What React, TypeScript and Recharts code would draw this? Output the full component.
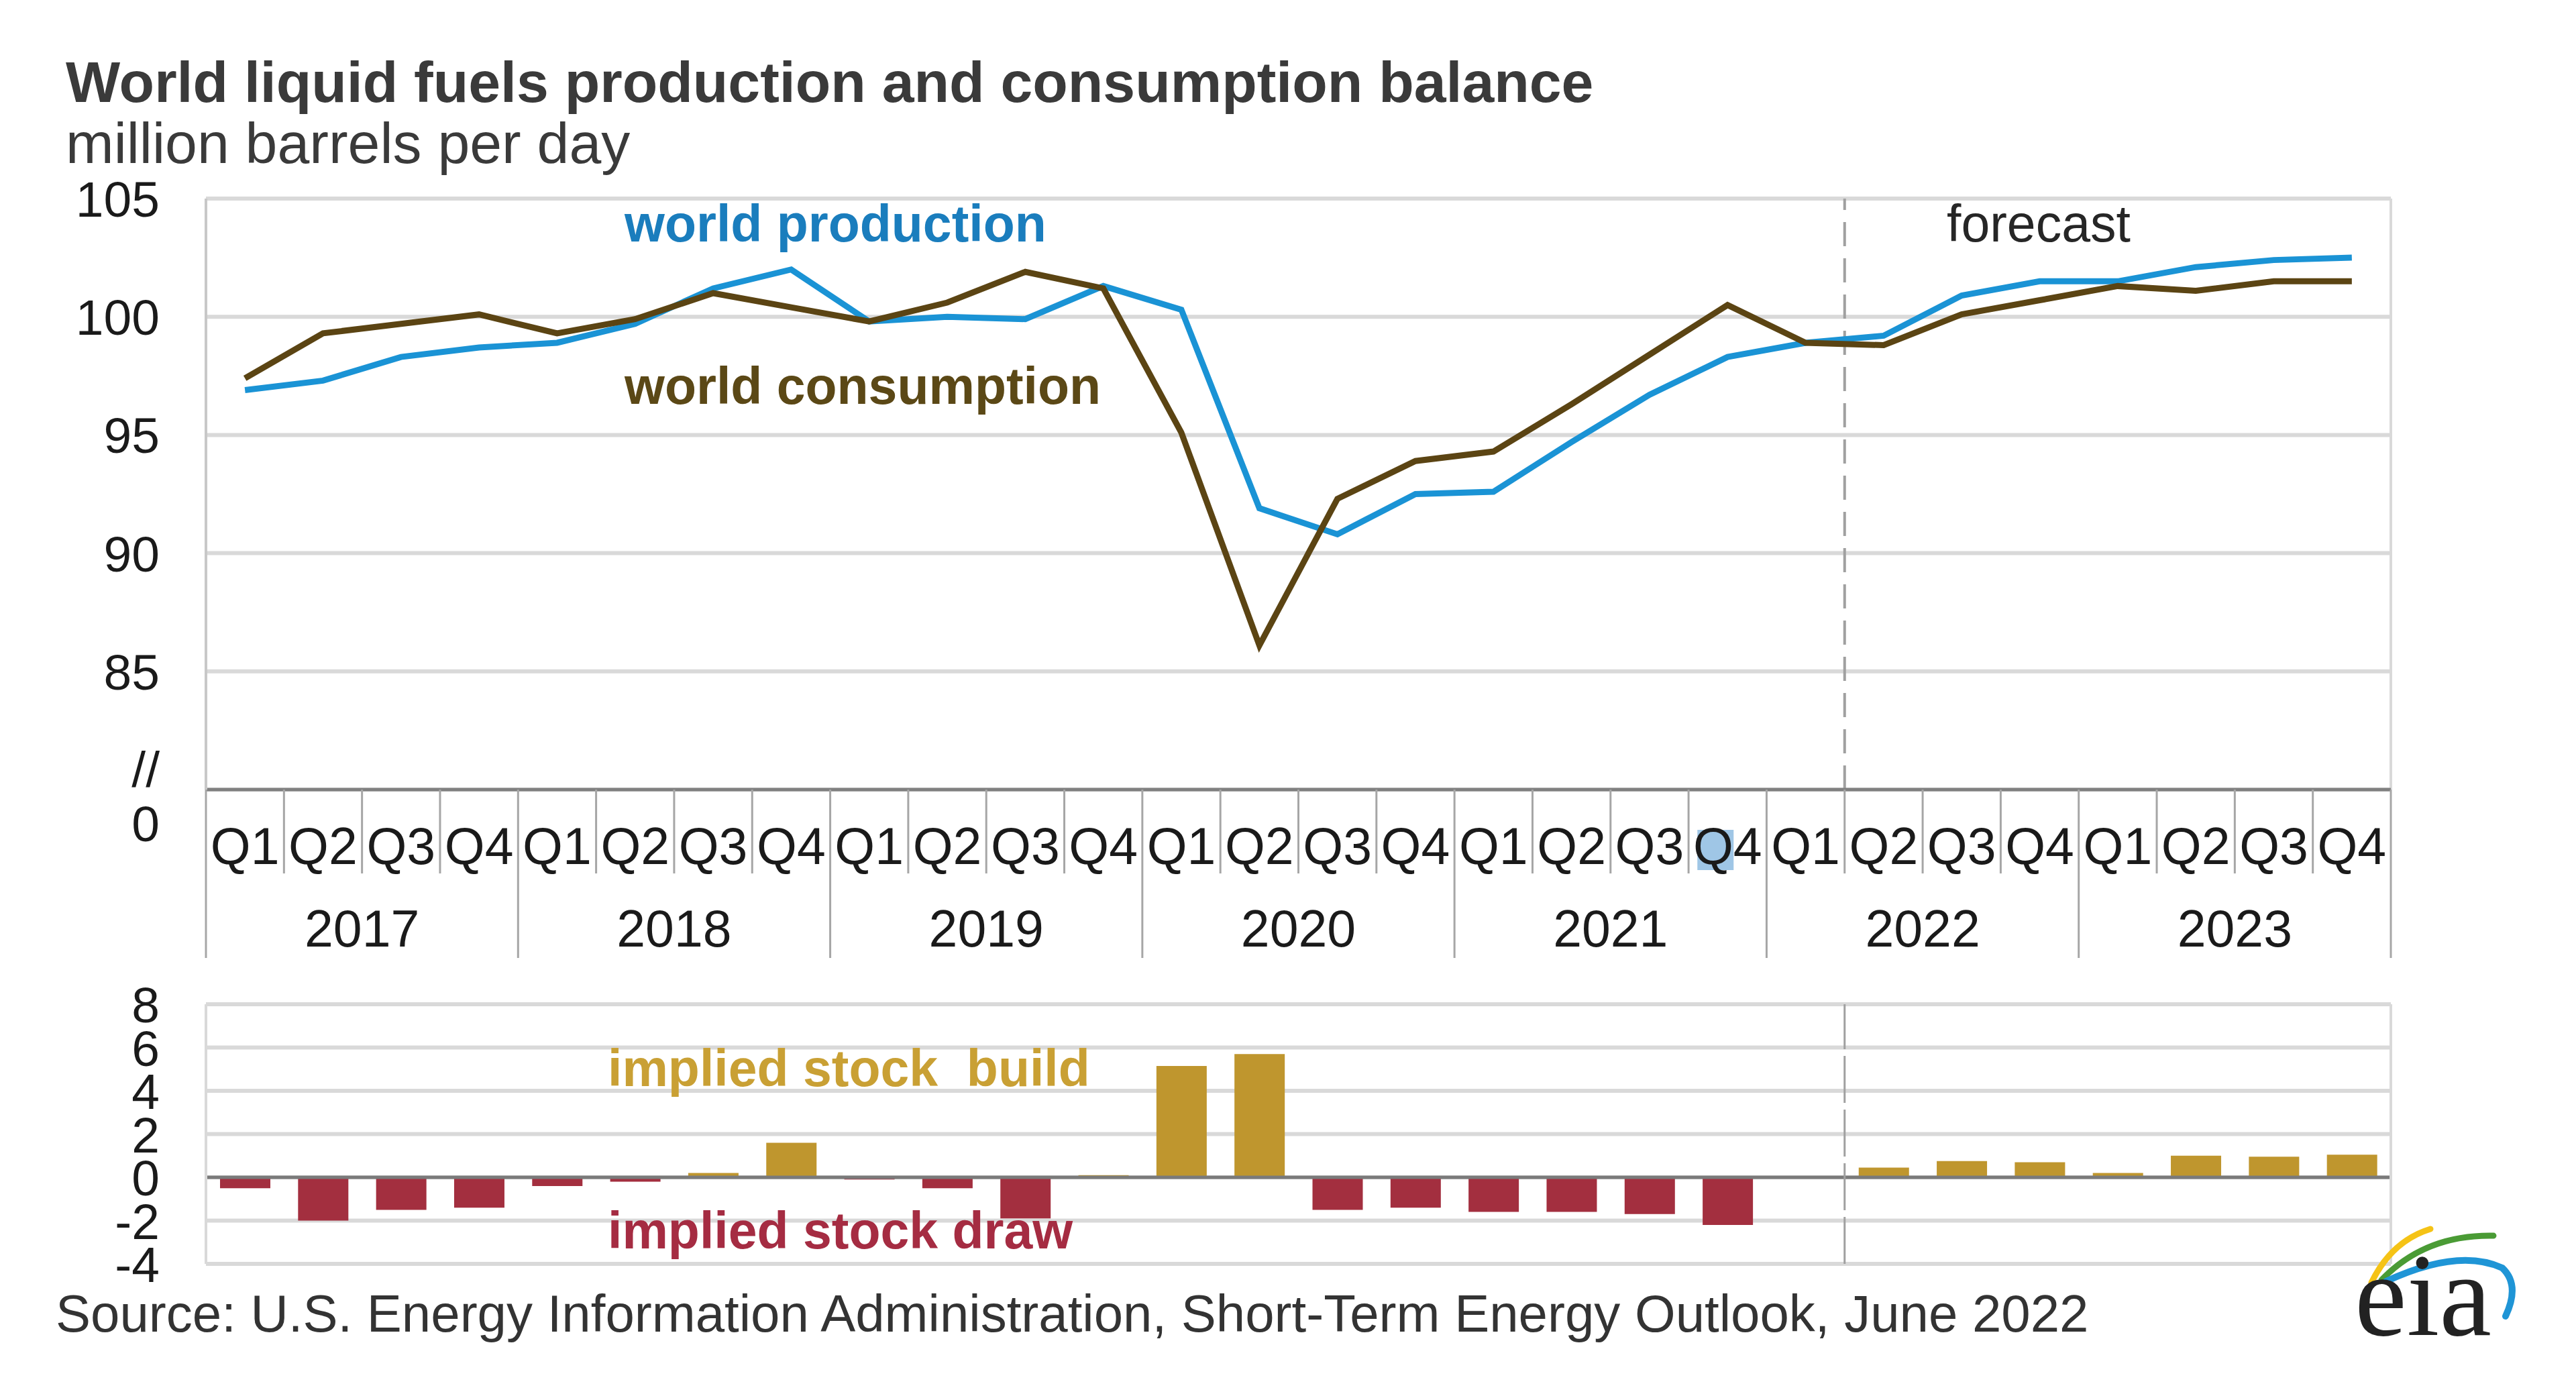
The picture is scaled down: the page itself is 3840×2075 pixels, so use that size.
import React from 'react';
import {
  LineChart,
  Line,
  BarChart,
  Bar,
  Cell,
  XAxis,
  YAxis,
  CartesianGrid,
  ReferenceLine
} from 'recharts';

// quarterly data, 2017 Q1 .. 2023 Q4 (million barrels per day)
const years = ['2017', '2018', '2019', '2020', '2021', '2022', '2023'];
const quarters = ['Q1', 'Q2', 'Q3', 'Q4'];

const production = [
  96.9, 97.3, 98.3, 98.7, 98.9, 99.7, 101.2, 102.0,
  99.8, 100.0, 99.9, 101.3, 100.3, 91.9, 90.8, 92.5,
  92.6, 94.7, 96.7, 98.3, 98.9, 99.2, 100.9, 101.5,
  101.5, 102.1, 102.4, 102.5
];

const consumption = [
  97.4, 99.3, 99.7, 100.1, 99.3, 99.9, 101.0, 100.4,
  99.8, 100.6, 101.9, 101.2, 95.1, 86.1, 92.3, 93.9,
  94.3, 96.3, 98.4, 100.5, 98.9, 98.8, 100.1, 100.7,
  101.3, 101.1, 101.5, 101.5
];

const stockChange = [
  -0.5, -2.0, -1.5, -1.4, -0.4, -0.2, 0.2, 1.6,
  -0.1, -0.5, -1.9, 0.1, 5.15, 5.7, -1.5, -1.4,
  -1.6, -1.6, -1.7, -2.2, 0, 0.45, 0.75, 0.7,
  0.2, 1.0, 0.95, 1.05
];

const topTicks = [80, 85, 90, 95, 100, 105];
const bottomTicks = [-4, -2, 0, 2, 4, 6, 8];
const forecastStart = 21; // 2022 Q2

const rows = production.map((p, i) => ({
  pos: i + 0.5,
  label: quarters[i % 4],
  year: years[Math.floor(i / 4)],
  production: p,
  consumption: consumption[i],
  stock: stockChange[i]
}));
const positions = rows.map(r => r.pos);

// layout (px)
const W = 3840;
const PLOT_LEFT = 307;
const PLOT_RIGHT = 3564;
const TOP_H = 1440;
const TOP_Y = 296;
const TOP_AXIS = 1177;
const BAND = (PLOT_RIGHT - PLOT_LEFT) / rows.length;

const FONT = '"Liberation Sans", Arial, sans-serif';
const GRID = '#d9d9d9';
const TEXT = '#1a1a1a';

const YTick = (props: any) => {
  const { x, y, payload } = props;
  if (payload.value === 80) {
    return (
      <g fontFamily={FONT} fontSize={75} fill={TEXT}>
        <text x={x} y={y - 31} dy="0.36em" textAnchor="end">//</text>
        <text x={x} y={y + 50} dy="0.36em" textAnchor="end">0</text>
      </g>
    );
  }
  return (
    <text x={x} y={y} dy="0.36em" textAnchor="end" fontFamily={FONT} fontSize={75} fill={TEXT}>
      {payload.value}
    </text>
  );
};

const XTick = (props: any) => {
  const { x, payload } = props;
  const i = Math.round(payload.value - 0.5);
  const row = rows[i];
  if (!row) return null;
  const left = x - BAND / 2;
  const yearStart = i % 4 === 0;
  const last = i === rows.length - 1;
  return (
    <g fontFamily={FONT} fill={TEXT}>
      <line x1={left} x2={left} y1={TOP_AXIS} y2={TOP_AXIS + (yearStart ? 251 : 125)} stroke="#a6a6a6" strokeWidth={3} />
      {last && (
        <line x1={x + BAND / 2} x2={x + BAND / 2} y1={TOP_AXIS} y2={TOP_AXIS + 251} stroke="#a6a6a6" strokeWidth={3} />
      )}
      {i === 19 && <rect x={x - 45} y={TOP_AXIS + 60} width={54} height={60} fill="#9fc6e6" />}
      <text x={x} y={TOP_AXIS + 83} dy="0.36em" textAnchor="middle" fontSize={77}>{row.label}</text>
      {i % 4 === 1 && (
        <text x={x + BAND / 2} y={TOP_AXIS + 206} dy="0.36em" textAnchor="middle" fontSize={77}>{row.year}</text>
      )}
    </g>
  );
};

const EiaLogo = () => (
  <svg width={280} height={240} style={{ position: 'absolute', left: 3495, top: 1820 }}>
    <path d="M 40 92 Q 70 30 128 12" stroke="#f5c316" strokeWidth={9} fill="none" strokeLinecap="round" />
    <path d="M 55 88 Q 120 20 222 22" stroke="#4a9b35" strokeWidth={9} fill="none" strokeLinecap="round" />
    <path d="M 62 90 Q 170 40 235 70 Q 262 95 240 142" stroke="#1f95d6" strokeWidth={10} fill="none" strokeLinecap="round" />
    <text x={15} y={170} fontFamily='"Liberation Serif", "DejaVu Serif", serif' fontSize={175} fill="#222">eia</text>
  </svg>
);

const abs = (left: number, top: number): React.CSSProperties => ({ position: 'absolute', left, top });

const App: React.FC = () => {
  return (
    <div style={{ position: 'absolute', left: 0, top: 0, width: W, height: 2075, background: '#fff', fontFamily: FONT, overflow: 'hidden' }}>
      <div style={{ ...abs(98, 79), fontSize: 86, fontWeight: 700, color: '#3a3a3a', lineHeight: 1, whiteSpace: 'nowrap' }}>
        World liquid fuels production and consumption balance
      </div>
      <div style={{ ...abs(98, 170), fontSize: 86, color: '#3a3a3a', lineHeight: 1, whiteSpace: 'nowrap' }}>
        million barrels per day
      </div>

      <div style={abs(0, 0)}>
        <LineChart width={W} height={TOP_H} data={rows} margin={{ top: TOP_Y, right: W - PLOT_RIGHT, bottom: 0, left: 0 }}>
          <CartesianGrid vertical={false} stroke={GRID} strokeWidth={6} />
          <XAxis
            type="number"
            dataKey="pos"
            domain={[0, rows.length]}
            ticks={positions}
            interval={0}
            tick={<XTick />}
            tickLine={false}
            axisLine={{ stroke: '#808080', strokeWidth: 5 }}
            height={TOP_H - TOP_AXIS}
          />
          <YAxis
            domain={[80, 105]}
            ticks={topTicks}
            interval={0}
            width={PLOT_LEFT}
            tickMargin={63}
            tickLine={false}
            tick={<YTick />}
            axisLine={{ stroke: '#c8c8c8', strokeWidth: 4 }}
          />
          <ReferenceLine x={rows.length} stroke={GRID} strokeWidth={4} />
          <ReferenceLine x={forecastStart} stroke="#a0a0a0" strokeWidth={4} strokeDasharray="36 18" />
          <Line type="linear" dataKey="production" stroke="#1a93d5" strokeWidth={9} dot={false} isAnimationActive={false} />
          <Line type="linear" dataKey="consumption" stroke="#5b4413" strokeWidth={9} dot={false} isAnimationActive={false} />
        </LineChart>
      </div>

      <div style={abs(0, TOP_H)}>
        <BarChart width={W} height={530} data={rows} barSize={75} margin={{ top: 57, right: W - PLOT_RIGHT, bottom: 86, left: 0 }}>
          <CartesianGrid vertical={false} stroke={GRID} strokeWidth={6} />
          <XAxis type="number" dataKey="pos" domain={[0, rows.length]} ticks={positions} hide />
          <YAxis
            domain={[-4, 8]}
            ticks={bottomTicks}
            interval={0}
            width={PLOT_LEFT}
            tickMargin={63}
            tickLine={false}
            tick={<YTick />}
            axisLine={{ stroke: GRID, strokeWidth: 4 }}
          />
          <Bar dataKey="stock" isAnimationActive={false}>
            {rows.map((r, i) => (
              <Cell key={i} fill={r.stock >= 0 ? '#bf962e' : '#a32f3f'} />
            ))}
          </Bar>
          <ReferenceLine y={0} stroke="#7a7a7a" strokeWidth={5} />
          <ReferenceLine x={rows.length} stroke={GRID} strokeWidth={4} />
          <ReferenceLine x={forecastStart} stroke="#a0a0a0" strokeWidth={3} strokeDasharray="70 10" />
        </BarChart>
      </div>

      <div style={{ ...abs(931, 295), fontSize: 77, fontWeight: 700, color: '#1a7dbd', lineHeight: 1, whiteSpace: 'nowrap' }}>
        world production
      </div>
      <div style={{ ...abs(931, 537), fontSize: 77, fontWeight: 700, color: '#5b4816', lineHeight: 1, whiteSpace: 'nowrap' }}>
        world consumption
      </div>
      <div style={{ ...abs(2902, 295), fontSize: 77, color: '#262626', lineHeight: 1, whiteSpace: 'nowrap' }}>
        forecast
      </div>
      <div style={{ ...abs(906, 1554), fontSize: 77, fontWeight: 700, color: '#c9a034', lineHeight: 1, whiteSpace: 'pre' }}>
        implied stock  build
      </div>
      <div style={{ ...abs(906, 1796), fontSize: 77, fontWeight: 700, color: '#a52c42', lineHeight: 1, whiteSpace: 'pre' }}>
        implied stock draw
      </div>
      <div style={{ ...abs(83, 1919), fontSize: 78, color: '#333', lineHeight: 1, whiteSpace: 'nowrap' }}>
        Source: U.S. Energy Information Administration, Short-Term Energy Outlook, June 2022
      </div>
      <EiaLogo />
    </div>
  );
};

export default App;
